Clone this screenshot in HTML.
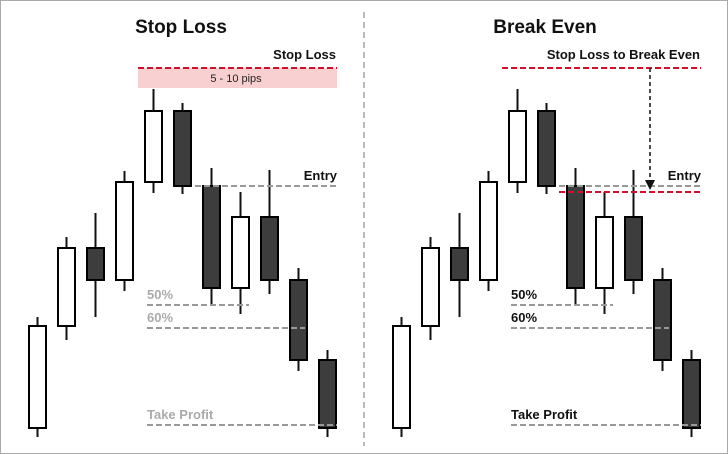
<!DOCTYPE html>
<html><head><meta charset="utf-8"><style>
body{margin:0;background:#fff}
svg{display:block;font-family:"Liberation Sans",Arial,sans-serif}
</style></head><body>
<svg id="c" width="728" height="454" viewBox="0 0 728 454">
<rect x="0.5" y="0.5" width="727" height="453" fill="#fff" stroke="#aaa"/>
<line x1="364" y1="12" x2="364" y2="446" stroke="#bbb" stroke-width="2" stroke-dasharray="6,4"/>
<g id="left"></g>
<g id="right"></g>
</svg>
<script>
// price values (price = 450 - pixel y)
const opens  = [22, 124, 202, 170, 268, 339, 264, 162, 233, 170, 90];
const closes = [124, 202, 170, 268, 339, 264, 162, 233, 170, 90, 22];
const highs  = [133, 213, 237, 279, 361, 347, 282, 258, 280, 182, 100];
const lows   = [13, 110, 133, 159, 257, 256, 145, 136, 156, 79, 13];
const levelNames = ["Entry", "50%", "60%", "Take Profit", "Stop Loss"];
const levelValues = [264, 145, 122, 25, 382];
const breakEvenValue = 258;

const NS = "http://www.w3.org/2000/svg";
function y(v){ return 450 - v; }
function x(i, off){ return off + 37.5 + i * 29; }
function mk(tag, attrs, parent){ const e = document.createElementNS(NS, tag); for (const k in attrs) e.setAttribute(k, attrs[k]); parent.appendChild(e); return e; }

function panel(g, off, right){
  const t = mk("text", {x: off + 181, y: 33, "text-anchor": "middle", "font-size": 19, "font-weight": "bold", fill: "#111"}, g);
  t.textContent = right ? "Break Even" : "Stop Loss";
  
  
  for (let i = 0; i < opens.length; i++){
    const cx = x(i, off), up = closes[i] > opens[i];
    const w = mk("line", {x1: cx, x2: cx, y1: y(highs[i]), y2: y(lows[i]), stroke: "#111", "stroke-width": 2}, g);
    
    
    const top = y(Math.max(opens[i], closes[i])), bot = y(Math.min(opens[i], closes[i]));
    const b = mk("rect", {x: cx - 8.5, y: top, width: 17, height: bot - top, fill: up ? "#fff" : "#3d3d3d", stroke: "#000", "stroke-width": 2}, g);
    
    
  }
  const lblColor = right ? "#111" : "#aaa";
  const lineDefs = [[0, off + 195, off + 337, "#999"], [1, off + 147, off + 249, "#999"], [2, off + 147, off + 305, "#999"], [3, off + 147, off + 337, "#999"]];
  lineDefs.forEach(d => {
    const [k, x1, x2, c] = d;
    const l = mk("line", {x1: x1, x2: x2, y1: y(levelValues[k]), y2: y(levelValues[k]), stroke: c, "stroke-width": 2, "stroke-dasharray": "6,3"}, g);
    
    
    const isEntry = k === 0;
    const tx = mk("text", {x: isEntry ? off + 337 : off + 147, y: y(levelValues[k]) - 6, "text-anchor": isEntry ? "end" : "start", "font-size": 13, "font-weight": "bold", fill: isEntry ? "#111" : lblColor}, g);
    tx.textContent = levelNames[k];
    
    
  });
  const sy = y(levelValues[4]);
  if (!right){
    const r = mk("rect", {x: off + 138, y: sy, width: 199, height: 20, fill: "#f8d0d2"}, g);
    
    
    const pt = mk("text", {x: off + 236, y: sy + 14, "text-anchor": "middle", "font-size": 11, fill: "#222"}, g);
    pt.textContent = "5 - 10 pips";
    
    
  }
  const sl = mk("line", {x1: off + 138, x2: off + 337, y1: sy, y2: sy, stroke: "#d0102a", "stroke-width": 2, "stroke-dasharray": "6,3"}, g);
  
  
  const st = mk("text", {x: off + 336, y: sy - 9, "text-anchor": "end", "font-size": 13, "font-weight": "bold", fill: "#111"}, g);
  st.textContent = right ? "Stop Loss to Break Even" : "Stop Loss";
  
  
  if (right){
    const by = y(breakEvenValue);
    const bl = mk("line", {x1: off + 195, x2: off + 337, y1: by, y2: by, stroke: "#d0102a", "stroke-width": 2, "stroke-dasharray": "6,3"}, g);
    
    
    const ax = off + 286;
    const al = mk("line", {x1: ax, x2: ax, y1: sy, y2: by - 10, stroke: "#111", "stroke-width": 1.5, "stroke-dasharray": "4,3"}, g);
    
    
    const ah = mk("polygon", {points: `${ax-5},${by-12} ${ax+5},${by-12} ${ax},${by-2}`, fill: "#111"}, g);
    
    
  }
}
panel(document.getElementById("left"), 0, false);
panel(document.getElementById("right"), 364, true);
</script>
</body></html>
